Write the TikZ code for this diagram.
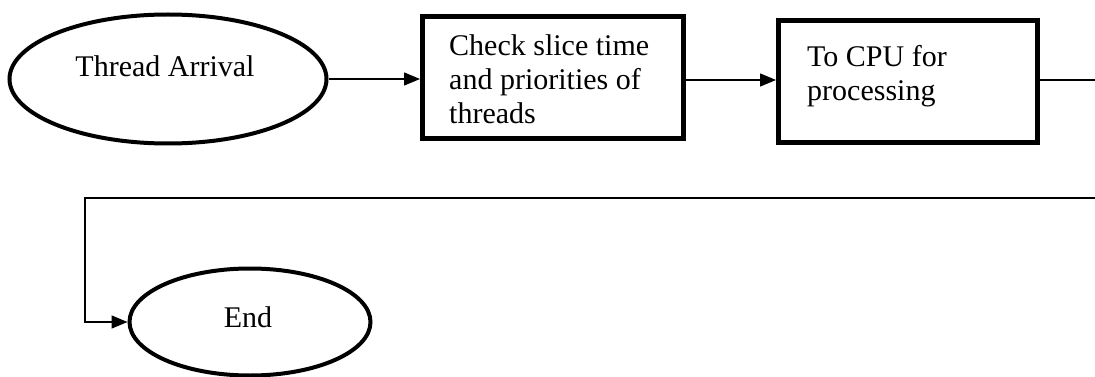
\documentclass[tikz,border=0pt]{standalone}
\usepackage{fontspec}
\setmainfont{Liberation Serif}
\usetikzlibrary{shapes.geometric,arrows.meta}

\tikzset{
  terminal/.style={ellipse, draw, line width=4pt, inner sep=0pt},
  stepbox/.style={rectangle, draw, line width=5pt, inner sep=0pt},
  boxtext/.style={anchor=north west, inner sep=0pt, align=left,
    font=\fontsize{30}{34}\selectfont},
  ovaltext/.style={inner sep=0pt, font=\fontsize{30}{34}\selectfont},
  flow/.style={line width=1.5pt, -{Triangle[length=16pt,width=13pt]}},
}

\begin{document}
\begin{tikzpicture}[x=1pt, y=-1pt]
  \useasboundingbox (0,0) rectangle (1095,377);

  % start and end ovals
  \node[terminal, minimum width=317pt, minimum height=129pt] (start) at (168,79) {};
  \node[ovaltext] (starttxt) at (165,66) {Thread Arrival};

  \node[terminal, minimum width=241pt, minimum height=107pt] (finish) at (250,322) {};
  \node[ovaltext] (finishtxt) at (248,317) {End};

  % processing steps
  \node[stepbox, minimum width=261pt, minimum height=122pt] (check) at (553,78) {};
  \node[boxtext] (checktxt) at (449,34) {Check slice time\\and priorities of\\threads};

  \node[stepbox, minimum width=259pt, minimum height=122pt] (cpu) at (908,82) {};
  \node[boxtext] (cputxt) at (807,45) {To CPU for\\processing};

  % return route around the right side and back under the row
  \coordinate (turn) at (1110,198);
  \coordinate (back) at (85,198);

  \draw[flow] (start.east) -- (check.west |- start.east);
  \draw[flow] (check.east |- 0,80) -- (cpu.west |- 0,80);
  \draw[flow] (cpu.east |- 0,80) -| (turn) -- (back) |- (finish.west);
\end{tikzpicture}
\end{document}
